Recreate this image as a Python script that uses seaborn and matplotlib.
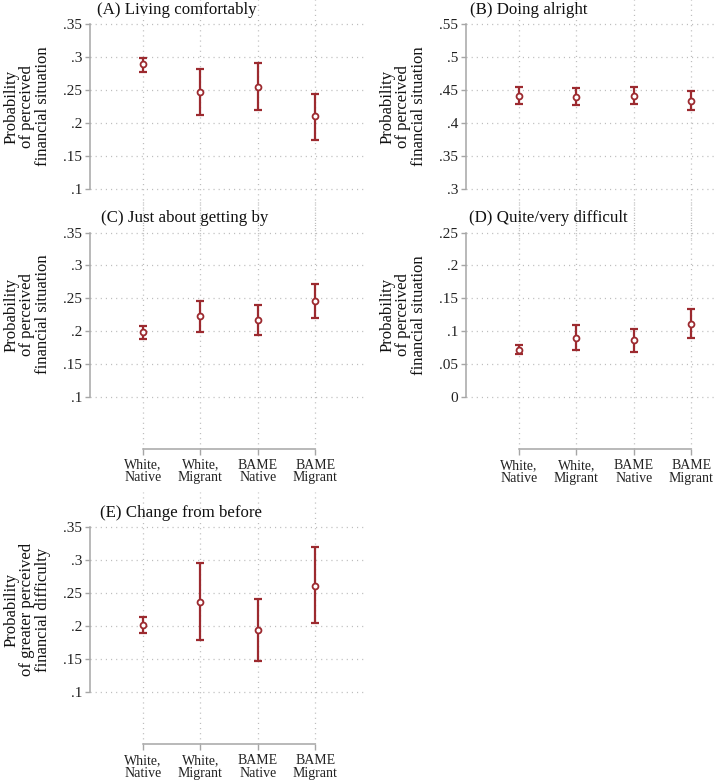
import numpy as np
import pandas as pd
import seaborn as sns
import matplotlib.pyplot as plt

# categories on the x axis
groups = ["White,\nNative", "White,\nMigrant", "BAME\nNative", "BAME\nMigrant"]

# (A) Living comfortably
comfortable_est = [0.289, 0.247, 0.255, 0.210]
comfortable_lo = [0.278, 0.212, 0.220, 0.174]
comfortable_hi = [0.299, 0.282, 0.291, 0.244]

# (B) Doing alright
alright_est = [0.441, 0.440, 0.441, 0.434]
alright_lo = [0.429, 0.427, 0.429, 0.419]
alright_hi = [0.454, 0.453, 0.454, 0.449]

# (C) Just about getting by
gettingby_est = [0.198, 0.222, 0.217, 0.245]
gettingby_lo = [0.187, 0.199, 0.194, 0.220]
gettingby_hi = [0.208, 0.246, 0.240, 0.271]

# (D) Quite/very difficult
difficult_est = [0.072, 0.090, 0.086, 0.111]
difficult_lo = [0.065, 0.072, 0.068, 0.089]
difficult_hi = [0.079, 0.109, 0.104, 0.134]

# (E) Change from before
change_est = [0.201, 0.237, 0.194, 0.261]
change_lo = [0.190, 0.179, 0.147, 0.204]
change_hi = [0.214, 0.296, 0.241, 0.319]

titles = ["(A) Living comfortably", "(B) Doing alright", "(C) Just about getting by",
          "(D) Quite/very difficult", "(E) Change from before"]
ylabel_fin = "Probability\nof perceived\nfinancial situation"
ylabel_chg = "Probability\nof greater perceived\nfinancial difficulty"

yticks_a = [0.1, 0.15, 0.2, 0.25, 0.3, 0.35]
yticks_b = [0.3, 0.35, 0.4, 0.45, 0.5, 0.55]
yticks_c = [0.1, 0.15, 0.2, 0.25, 0.3, 0.35]
yticks_d = [0.0, 0.05, 0.1, 0.15, 0.2, 0.25]
yticks_e = [0.1, 0.15, 0.2, 0.25, 0.3, 0.35]

RED = "#9c2a2f"
AXIS = "#a6a6a6"
GRID = "#bdbdbd"
W, H = 716, 784

sns.set_style("white")
plt.rcParams["font.family"] = ["Liberation Serif", "DejaVu Serif"]

fig = plt.figure(figsize=(W / 100, H / 100), dpi=100)

# panel layout in pixels: y-axis x, top tick px, bottom tick px, x axis shown
panels = [
    dict(est=comfortable_est, lo=comfortable_lo, hi=comfortable_hi, yt=yticks_a,
         ax_x=90, top=24, bot=189, xaxis=False, title_x=97, ylab=ylabel_fin),
    dict(est=alright_est, lo=alright_lo, hi=alright_hi, yt=yticks_b,
         ax_x=466, top=24, bot=189, xaxis=False, title_x=470, ylab=ylabel_fin),
    dict(est=gettingby_est, lo=gettingby_lo, hi=gettingby_hi, yt=yticks_c,
         ax_x=90, top=232.5, bot=396.5, xaxis=True, title_x=101, ylab=ylabel_fin),
    dict(est=difficult_est, lo=difficult_lo, hi=difficult_hi, yt=yticks_d,
         ax_x=466, top=232.5, bot=397, xaxis=True, title_x=469, ylab=ylabel_fin),
    dict(est=change_est, lo=change_lo, hi=change_hi, yt=yticks_e,
         ax_x=90, top=527, bot=692, xaxis=True, title_x=100, ylab=ylabel_chg),
]

region_w = 275
cat1_off = 53
cat_step = 57.4

for p, title in zip(panels, titles):
    rt = p["top"] - 35
    rb = p["bot"] + 52
    ax = fig.add_axes([p["ax_x"] / W, 1 - rb / H, region_w / W, (rb - rt) / H])
    ax.patch.set_alpha(0)

    vt, vb = max(p["yt"]), min(p["yt"])
    scale = (vt - vb) / (p["bot"] - p["top"])
    ax.set_ylim(vb - (rb - p["bot"]) * scale, vt + (p["top"] - rt) * scale)
    xl = 1 - cat1_off / cat_step
    ax.set_xlim(xl, xl + region_w / cat_step)

    df = pd.DataFrame({"x": np.arange(1, 5), "est": p["est"], "lo": p["lo"], "hi": p["hi"]})
    ax.errorbar(df["x"], df["est"], yerr=[df["est"] - df["lo"], df["hi"] - df["est"]],
                fmt="none", ecolor=RED, elinewidth=1.6, capsize=3.2, capthick=1.6, zorder=3)
    sns.scatterplot(data=df, x="x", y="est", ax=ax, marker="o", s=18,
                    facecolors="white", edgecolors=RED, linewidth=1.3, zorder=4)

    ax.set_yticks(p["yt"])
    ax.set_yticklabels([f"{v:g}".replace("0.", ".") if v != 0 else "0" for v in p["yt"]])
    ax.set_xticks([1, 2, 3, 4])
    ax.grid(True, linestyle=(0, (0.9, 3.2)), color=GRID, linewidth=0.9, zorder=0)
    ax.set_axisbelow(True)
    ax.set_xlabel("")
    ax.set_ylabel("")

    for s in ["top", "right"]:
        ax.spines[s].set_visible(False)
    ax.spines["left"].set_color(AXIS)
    ax.spines["left"].set_linewidth(1.1)
    ax.spines["left"].set_bounds(vb, vt)
    ax.tick_params(axis="y", length=3.8, width=1.0, color=AXIS, pad=2, labelsize=11,
                   labelcolor="#222222", direction="out", left=True)

    if p["xaxis"]:
        ax.spines["bottom"].set_color(AXIS)
        ax.spines["bottom"].set_linewidth(1.1)
        ax.spines["bottom"].set_bounds(1, 4)
        labels = ax.set_xticklabels(groups)
        for t in labels:
            t.set_linespacing(0.95)
        ax.tick_params(axis="x", length=4.3, width=1.0, color=AXIS, pad=3, labelsize=10,
                       labelcolor="#222222", direction="out", bottom=True)
    else:
        ax.spines["bottom"].set_visible(False)
        ax.tick_params(axis="x", length=0, labelbottom=False)

    fig.text(p["title_x"] / W, 1 - (p["top"] - 14) / H, title, ha="left", va="center",
             fontsize=12.2, color="#111111")
    fig.text((p["ax_x"] - 63) / W, 1 - (p["top"] + p["bot"]) / 2 / H, p["ylab"],
             rotation=90, ha="center", va="center", multialignment="center",
             fontsize=12, linespacing=0.98, color="#111111")

fig.savefig("out.png", dpi=100, facecolor="white")
